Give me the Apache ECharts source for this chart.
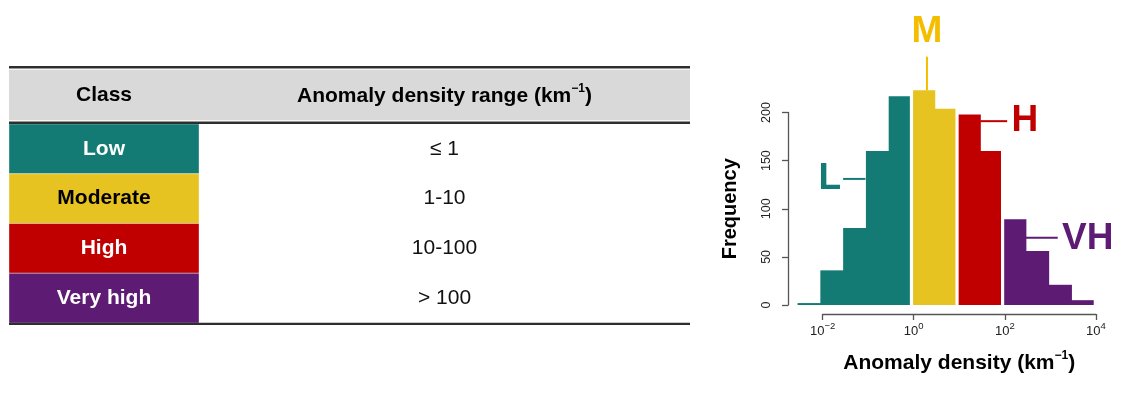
<!DOCTYPE html>
<html>
<head>
<meta charset="utf-8">
<script src="https://cdn.jsdelivr.net/npm/echarts@6/dist/echarts.min.js"></script>
<style>
  html, body { margin: 0; padding: 0; background: #fff; }
  #chart { width: 1129px; height: 400px; }
</style>
</head>
<body>
<div id="chart"></div>
<script>
// ---------------- DATA ----------------
const classes = ['Low', 'Moderate', 'High', 'Very high'];
const classRanges = ['\u2264 1', '1-10', '10-100', '> 100'];
const classAbbr = ['L', 'M', 'H', 'VH'];
// class thresholds in log10(km^-1): 1, 10, 100
const classThresholdsLog = [0, 1, 2];
// histogram bin edges, log10(anomaly density)
const binEdgesLog = [-2.55, -2.05, -1.55, -1.05, -0.55, -0.05, 0.45, 0.95, 1.45, 1.95, 2.45, 2.95, 3.45, 3.95];
// frequency per bin
const binCounts = [2, 36, 80, 160, 217, 223, 204, 198, 160, 89, 56, 21, 5];
// axis ticks
const xTickExponents = [-2, 0, 2, 4];
const yTicks = [0, 50, 100, 150, 200];

// ---------------- STYLE / LAYOUT ----------------
const FONT = '"Liberation Sans", Arial, Helvetica, sans-serif';
const classColors = ['#137B73', '#E7C322', '#C00000', '#5D1B74'];
const classTextColors = ['#ffffff', '#000000', '#ffffff', '#ffffff'];
const labelColors = ['#137B73', '#F4BE00', '#C00000', '#5D1B74'];

const TABLE = { left: 9, right: 690, top: 124, bottom: 323, classColW: 190 };
// annotation anchors in data coordinates (log10 x, frequency y)
const annotationLayout = [
  { text: [-1.84, 131], line: [[-1.55, 131], [-1.06, 131]] },
  { text: [0.29, 284], line: [[0.29, 223], [0.29, 258]] },
  { text: [2.44, 191], line: [[1.46, 191], [2.05, 191]] },
  { text: [3.82, 69], line: [[2.45, 70], [3.16, 70]] }
];

function classOf(lo, hi) {
  const c = (lo + hi) / 2;
  let k = 0;
  while (k < classThresholdsLog.length && c >= classThresholdsLog[k]) k++;
  return k;
}
const binClass = binCounts.map((_, i) => classOf(binEdgesLog[i], binEdgesLog[i + 1]));

const chart = echarts.init(document.getElementById('chart'), null, { renderer: 'canvas' });

const supRich = {
  n: { fontFamily: FONT, fontWeight: 'bold', fontSize: 21, color: '#000', lineHeight: 24, verticalAlign: 'bottom' },
  s: { fontFamily: FONT, fontWeight: 'bold', fontSize: 12, color: '#000', lineHeight: 14, verticalAlign: 'top' }
};

const option = {
  backgroundColor: '#ffffff',
  animation: false,
  grid: [
    { left: TABLE.left, top: TABLE.top, width: TABLE.right - TABLE.left, height: TABLE.bottom - TABLE.top, outerBoundsMode: 'none', containLabel: false },
    { left: 788, top: 112.5, width: 308, height: 192.5, outerBoundsMode: 'none', containLabel: false },
    { left: 822.6, top: 313, width: 273.3, height: 1, outerBoundsMode: 'none', containLabel: false }
  ],
  xAxis: [
    { gridIndex: 0, type: 'value', min: 0, max: 1, show: false },
    { gridIndex: 1, type: 'value', min: -2.76, max: 4, show: false, axisLine: { onZero: false } },
    {
      gridIndex: 2, type: 'value', min: -2, max: 4, interval: 2, position: 'bottom',
      axisLine: { show: true, onZero: false, lineStyle: { color: '#555', width: 1.3 } },
      axisTick: { show: true, length: 6, lineStyle: { color: '#555', width: 1.3 } },
      splitLine: { show: false },
      axisLabel: {
        margin: 7,
        formatter: v => '{b|10}{s|' + (v < 0 ? '\u2212' : '') + Math.abs(v) + '}',
        rich: {
          b: { fontFamily: FONT, fontSize: 13, color: '#222', lineHeight: 17, verticalAlign: 'bottom' },
          s: { fontFamily: FONT, fontSize: 9.5, color: '#222', lineHeight: 11, verticalAlign: 'top' }
        }
      },
      name: '{n|Anomaly density (km}{s|\u22121}{n|)}',
      nameLocation: 'middle',
      nameGap: 36,
      nameTextStyle: { rich: supRich }
    }
  ],
  yAxis: [
    { gridIndex: 0, type: 'category', data: classes, inverse: true, show: false },
    {
      gridIndex: 1, type: 'value', min: 0, max: 200, interval: 50, position: 'left',
      axisLine: { show: true, onZero: false, lineStyle: { color: '#555', width: 1.3 } },
      axisTick: { show: true, length: 6, lineStyle: { color: '#555', width: 1.3 } },
      splitLine: { show: false },
      axisLabel: { rotate: 90, margin: 15, fontFamily: FONT, fontSize: 12.5, color: '#222',
                   formatter: v => (yTicks.indexOf(v) >= 0 ? String(v) : '') },
      name: 'Frequency',
      nameLocation: 'middle',
      nameGap: 48,
      nameTextStyle: { fontFamily: FONT, fontWeight: 'bold', fontSize: 20, color: '#000' }
    },
    { gridIndex: 2, type: 'value', show: false, axisLine: { onZero: false } }
  ],
  series: [
    {
      type: 'custom',
      xAxisIndex: 0, yAxisIndex: 0,
      encode: { x: 0, y: 1 },
      data: classes.map((c, i) => [0, c, classRanges[i]]),
      renderItem: function (params, api) {
        const idx = api.value(1);
        const cs = params.coordSys;
        const yc = api.coord([0, idx])[1];
        const h = api.size([0, 1])[1];
        const top = yc - h / 2;
        const w = TABLE.classColW;
        return {
          type: 'group',
          children: [
            { type: 'rect', shape: { x: cs.x, y: top, width: w, height: h },
              style: { fill: classColors[idx], stroke: 'rgba(255,255,255,0.35)', lineWidth: 1 } },
            { type: 'text', x: cs.x + w / 2, y: yc,
              style: { text: classes[idx], fill: classTextColors[idx], fontFamily: FONT, fontWeight: 'bold',
                       fontSize: 21, align: 'center', verticalAlign: 'middle' } },
            { type: 'text', x: cs.x + w + (cs.width - w) / 2, y: yc,
              style: { text: classRanges[idx], fill: '#111', fontFamily: FONT, fontSize: 21,
                       align: 'center', verticalAlign: 'middle' } }
          ]
        };
      },
      z: 2
    },
    {
      type: 'custom',
      xAxisIndex: 1, yAxisIndex: 1,
      encode: { x: [0, 1], y: 2 },
      clip: false,
      data: binCounts.map((n, i) => [binEdgesLog[i], binEdgesLog[i + 1], n]),
      renderItem: function (params, api) {
        const i = params.dataIndex;
        const p0 = api.coord([api.value(0), 0]);
        const p1 = api.coord([api.value(1), api.value(2)]);
        const c = binClass[i];
        let x0 = p0[0], x1 = p1[0];
        if (i > 0 && binClass[i - 1] !== c) x0 += 1.6;
        if (i < binClass.length - 1 && binClass[i + 1] !== c) x1 -= 1.6;
        else if (i < binClass.length - 1) x1 += 1; // overlap neighbours of the same class (no seam)
        return {
          type: 'rect',
          shape: { x: x0, y: p1[1], width: x1 - x0, height: p0[1] - p1[1] },
          style: { fill: classColors[c] },
          z2: 100 - i
        };
      },
      z: 2
    },
    {
      type: 'custom',
      xAxisIndex: 1, yAxisIndex: 1,
      encode: { x: 0, y: 1 },
      clip: false,
      data: annotationLayout.map((a, i) => [a.text[0], a.text[1], i]),
      renderItem: function (params, api) {
        const i = params.dataIndex;
        const a = annotationLayout[i];
        const t = api.coord(a.text);
        const l0 = api.coord(a.line[0]);
        const l1 = api.coord(a.line[1]);
        return {
          type: 'group',
          children: [
            { type: 'line', shape: { x1: l0[0], y1: l0[1], x2: l1[0], y2: l1[1] },
              style: { stroke: labelColors[i], lineWidth: 2 } },
            { type: 'text', x: t[0], y: t[1],
              style: { text: classAbbr[i], fill: labelColors[i], fontFamily: FONT, fontWeight: 'bold',
                       fontSize: 37, align: 'center', verticalAlign: 'middle' } }
          ]
        };
      },
      z: 3
    }
  ],
  graphic: [
    { type: 'rect', shape: { x: TABLE.left, y: 69.8, width: TABLE.right - TABLE.left, height: 50.4 },
      style: { fill: '#D9D9D9' }, z: 1 },
    { type: 'line', shape: { x1: TABLE.left, y1: 67.2, x2: TABLE.right, y2: 67.2 },
      style: { stroke: '#2e2e2e', lineWidth: 2.4 }, z: 5 },
    { type: 'line', shape: { x1: TABLE.left, y1: 122.8, x2: TABLE.right, y2: 122.8 },
      style: { stroke: '#2e2e2e', lineWidth: 2.4 }, z: 5 },
    { type: 'line', shape: { x1: TABLE.left, y1: 323.9, x2: TABLE.right, y2: 323.9 },
      style: { stroke: '#2e2e2e', lineWidth: 2.2 }, z: 5 },
    { type: 'text', x: TABLE.left + TABLE.classColW / 2, y: 95, z: 5,
      style: { text: 'Class', fill: '#000', fontFamily: FONT, fontWeight: 'bold', fontSize: 21,
               align: 'center', verticalAlign: 'middle' } },
    { type: 'text', x: TABLE.left + TABLE.classColW + (TABLE.right - TABLE.left - TABLE.classColW) / 2, y: 95, z: 5,
      style: { text: '{n|Anomaly density range (km}{s|\u22121}{n|)}', rich: supRich,
               align: 'center', verticalAlign: 'middle' } }
  ]
};

chart.setOption(option);
</script>
</body>
</html>
